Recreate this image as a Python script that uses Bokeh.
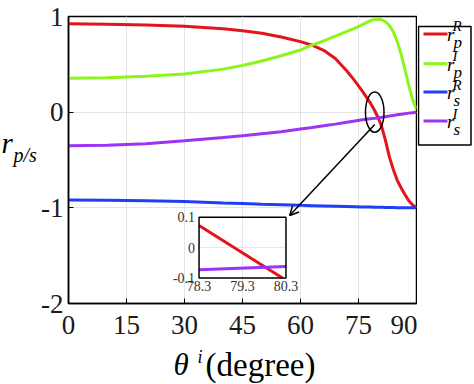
from bokeh.plotting import figure
from bokeh.models import Range1d, FixedTicker, Arrow, OpenHead, Label
from bokeh.layouts import row, column
from bokeh.embed import file_html
from bokeh.resources import INLINE
from bokeh.core.properties import value

# ---------------- data ----------------
theta = [0, 10, 20, 30, 40, 45, 50, 55, 60, 63, 66, 69, 72, 74, 76, 78, 79, 80,
         81, 82, 83, 84, 85, 86, 87, 88, 89, 90]
rp_R = [0.925, 0.92, 0.912, 0.897, 0.872, 0.85, 0.825, 0.785, 0.737, 0.70, 0.647,
        0.56, 0.43, 0.33, 0.22, 0.10, 0.03, -0.05, -0.15, -0.30, -0.47, -0.60,
        -0.71, -0.79, -0.86, -0.925, -0.97, -1.0]
rp_I = [0.355, 0.36, 0.375, 0.40, 0.45, 0.488, 0.535, 0.59, 0.65, 0.70, 0.745,
        0.795, 0.845, 0.875, 0.915, 0.955, 0.968, 0.972, 0.965, 0.945, 0.905,
        0.84, 0.74, 0.61, 0.45, 0.28, 0.13, 0.03]
rs_R = [-0.918, -0.92, -0.925, -0.935, -0.95, -0.955, -0.962, -0.968, -0.974,
        -0.977, -0.98, -0.983, -0.986, -0.988, -0.99, -0.992, -0.993, -0.994,
        -0.995, -0.996, -0.997, -0.997, -0.998, -0.998, -0.999, -0.999, -1.0, -1.0]
rs_I = [-0.35, -0.345, -0.33, -0.30, -0.265, -0.246, -0.225, -0.205, -0.175,
        -0.16, -0.143, -0.125, -0.105, -0.093, -0.08, -0.07, -0.065, -0.06,
        -0.054, -0.047, -0.04, -0.034, -0.028, -0.022, -0.016, -0.01, -0.005, 0.0]

# zoomed inset data
inset_theta_R = [78.3, 80.22]
inset_rp_R = [0.073, -0.1]
inset_theta_I = [78.3, 80.3]
inset_rs_I = [-0.073, -0.062]

x_ticks = [0, 15, 30, 45, 60, 75, 90]
x_tick_labels = ["0", "15", "30", "45", "60", "75", "90"]
y_ticks = [-2, -1, 0, 1]
y_tick_labels = ["-2", "-1", "0", "1"]
inset_x_ticks = [78.3, 79.3, 80.3]
inset_x_labels = ["78.3", "79.3", "80.3"]
inset_y_ticks = [-0.1, 0.0, 0.1]
inset_y_labels = ["-0.1", "0", "0.1"]

legend_base = ["r", "r", "r", "r"]
legend_sup = ["R", "I", "R", "I"]
legend_sub = ["p", "p", "s", "s"]

x_title = ["\u03b8", "i", "(degree)"]
y_title = ["r", "p/s"]

# ---------------- style ----------------
FONT = "Liberation Serif"
C_RED = "#e2141c"
C_GREEN = "#8cf51e"
C_BLUE = "#1f3ef5"
C_PURPLE = "#9b34f5"
colors = [C_RED, C_GREEN, C_BLUE, C_PURPLE]
LW = 3

YLAB_W = 37
MAIN_W = 31 + 348 + 1
MAIN_H = 346
LEG_W = 55


def blank(w, h):
    f = figure(width=w, height=h, x_range=Range1d(0, w), y_range=Range1d(h, 0),
               output_backend="svg", toolbar_location=None,
               x_axis_type=None, y_axis_type=None,
               min_border_left=0, min_border_right=0, min_border_top=0,
               min_border_bottom=0)
    f.grid.visible = False
    f.outline_line_color = None
    return f


def lab(f, x, y, text, size, style="italic", align="left"):
    f.add_layout(Label(x=x, y=y, text=text, text_font=FONT, text_font_size=size,
                       text_font_style=style, text_color="black",
                       text_align=align, text_baseline="middle"))


# ---------------- main plot ----------------
p = figure(width=MAIN_W, height=MAIN_H,
           x_range=Range1d(0, 90), y_range=Range1d(-2, 1),
           output_backend="svg", toolbar_location=None,
           min_border_left=31, min_border_right=1, min_border_top=16,
           min_border_bottom=43)
p.outline_line_color = "black"
p.outline_line_width = 1.5

for ax, ticks, labels in ((p.xaxis[0], x_ticks, x_tick_labels),
                          (p.yaxis[0], y_ticks, y_tick_labels)):
    ax.ticker = FixedTicker(ticks=ticks)
    ax.major_label_overrides = dict(zip(ticks, labels))
    ax.major_label_text_font = FONT
    ax.major_label_text_font_size = "27px"
    ax.major_label_text_color = "#1a1a1a"
    ax.major_tick_in = 5
    ax.major_tick_out = 0
    ax.minor_tick_line_color = None
    ax.axis_line_color = "black"
    ax.axis_line_width = 1.5
    ax.major_tick_line_color = "black"
p.xaxis.major_label_standoff = 12
p.yaxis.major_label_standoff = 5

p.grid.grid_line_color = "#e4e4e4"
p.grid.grid_line_width = 1

for ys, c in zip([rp_R, rp_I, rs_R, rs_I], colors):
    p.line(theta, ys, line_color=c, line_width=LW)

# ---------------- inset ----------------
ix0, ix1 = 33.76, 56.24      # inset box location in main data coordinates
iy0, iy1 = -1.734, -1.099
kx = (inset_x_ticks[-1] - inset_x_ticks[0]) / (ix1 - ix0)
ky = (inset_y_ticks[-1] - inset_y_ticks[0]) / (iy1 - iy0)
p.extra_x_ranges = {"ix": Range1d(inset_x_ticks[0] - ix0 * kx,
                                  inset_x_ticks[-1] + (90 - ix1) * kx)}
p.extra_y_ranges = {"iy": Range1d(inset_y_ticks[0] - (iy0 + 2) * ky,
                                  inset_y_ticks[-1] + (1 - iy1) * ky)}
R = dict(x_range_name="ix", y_range_name="iy")
p.quad(left=inset_x_ticks[0], right=inset_x_ticks[-1], bottom=inset_y_ticks[0],
       top=inset_y_ticks[-1], fill_color="white", line_color=None, **R)
p.segment(x0=[inset_x_ticks[1]], y0=[inset_y_ticks[0]], x1=[inset_x_ticks[1]],
          y1=[inset_y_ticks[-1]], line_color="#e4e4e4", line_width=1, **R)
p.segment(x0=[inset_x_ticks[0]], y0=[inset_y_ticks[1]], x1=[inset_x_ticks[-1]],
          y1=[inset_y_ticks[1]], line_color="#e4e4e4", line_width=1, **R)
p.line(inset_theta_R, inset_rp_R, line_color=C_RED, line_width=LW, **R)
p.line(inset_theta_I, inset_rs_I, line_color=C_PURPLE, line_width=LW, **R)
p.quad(left=inset_x_ticks[0], right=inset_x_ticks[-1], bottom=inset_y_ticks[0],
       top=inset_y_ticks[-1], fill_color=None, line_color="black", line_width=1.5, **R)
p.text(x=inset_x_ticks, y=[inset_y_ticks[0]] * 3, text=inset_x_labels,
       text_font=value(FONT), text_font_size="14px", text_color="#333333",
       text_align="center", text_baseline="top", y_offset=3, **R)
p.text(x=[inset_x_ticks[0]] * 3, y=inset_y_ticks, text=inset_y_labels,
       text_font=value(FONT), text_font_size="14px", text_color="#333333",
       text_align="right", text_baseline="middle", x_offset=-4, **R)

# ellipse + arrow
p.ellipse(x=79.2, y=0.0, width=4.8, height=0.42, fill_color=None,
          line_color="black", line_width=1.5)
p.add_layout(Arrow(end=OpenHead(size=9, line_width=1.5, line_color="black"),
                   x_start=79.2, y_start=-0.13, x_end=57.2, y_end=-1.08,
                   line_width=1.5, line_color="black"))

# ---------------- y title ----------------
ylab = blank(YLAB_W, MAIN_H)
lab(ylab, 1, 152, y_title[0], "29px")
lab(ylab, 13, 167, y_title[1], "20px")

# ---------------- legend ----------------
leg = blank(LEG_W, MAIN_H)
leg.quad(left=[1], right=[53.5], top=[12], bottom=[155], fill_color="white",
         line_color="black", line_width=1.5)
ly = [21, 57, 91, 126]
leg.segment(x0=[6] * 4, y0=ly, x1=[30] * 4, y1=ly, line_color=colors, line_width=LW)
for yy, b, sup, sub in zip(ly, legend_base, legend_sup, legend_sub):
    lab(leg, 29.5, yy + 1, b, "19px")
    lab(leg, 35, yy - 9, sup, "15px")
    lab(leg, 36, yy + 10, sub, "17px")

# ---------------- x title ----------------
XL_W, XL_H = YLAB_W + MAIN_W + LEG_W, 384 - MAIN_H
xlab = blank(XL_W, XL_H)
lab(xlab, 173, 364 - MAIN_H, x_title[0], "31px")
lab(xlab, 197, 356 - MAIN_H, x_title[1], "18px")
lab(xlab, 205, 364 - MAIN_H, x_title[2], "33px", style="normal")

layout = column(row(ylab, p, leg), xlab)
open("out.html", "w").write(file_html(layout, INLINE))
